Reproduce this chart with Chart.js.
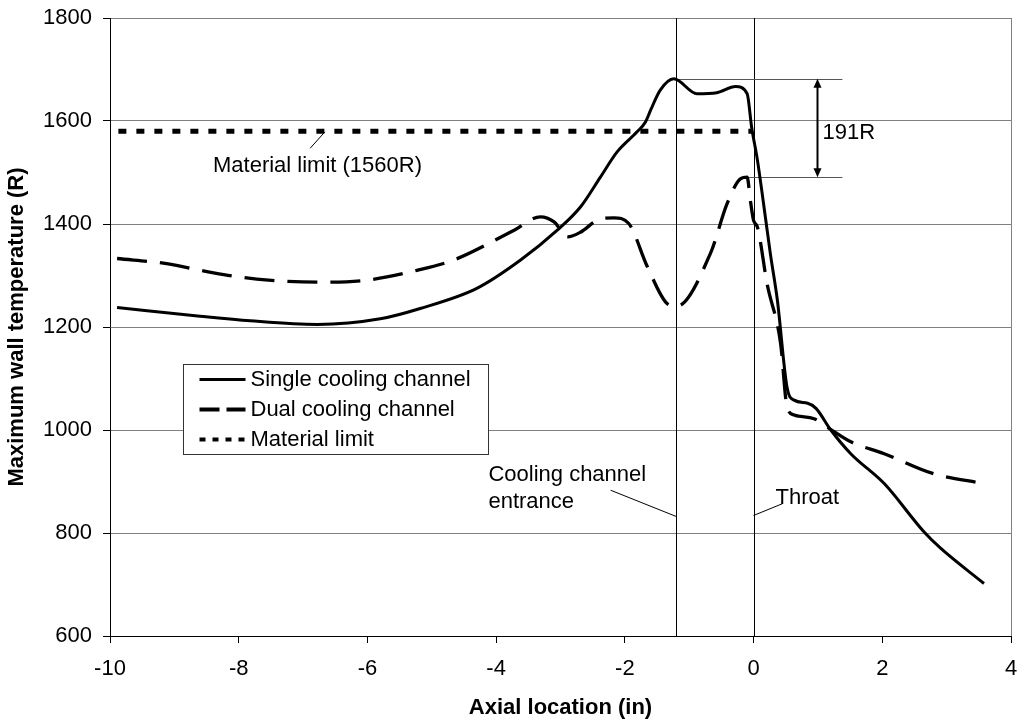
<!DOCTYPE html>
<html>
<head>
<meta charset="utf-8">
<title>Maximum wall temperature</title>
<script src="https://cdn.jsdelivr.net/npm/chart.js@4.4.1/dist/chart.umd.min.js"></script>
<style>
  body { margin: 0; background: #fff; }
  #wrap { width: 1018px; height: 721px; position: relative; }
</style>
</head>
<body>
<div id="wrap"><canvas id="wallChart"></canvas></div>
<script>
// values
const singleX = [-9.89, -8.6, -7.82, -6.78, -5.8, -5.18, -4.3, -3.62, -3.05, -2.69, -2.38, -2.12, -1.81, -1.68, -1.6, -1.45, -1.24,
  -0.88, -0.57, -0.28, -0.1, -0.03, 0.06, 0.16, 0.26, 0.37, 0.52, 0.63, 0.84, 0.97, 1.2, 1.51, 2.03, 2.65, 2.91, 3.58];
const singleTemp = [1238, 1221, 1212, 1205, 1216, 1236, 1275, 1330, 1388, 1433, 1491, 1540, 1579, 1598, 1621, 1660, 1682,
  1653, 1655, 1667, 1653, 1588, 1524, 1435, 1343, 1252, 1083, 1058, 1052, 1042, 1000, 954, 896, 802, 770, 702];

const dualX = [-9.89, -9.12, -8.39, -7.72, -6.69, -6.01, -5.23, -4.66, -3.72, -3.31, -3.1, -2.89, -2.69, -2.43, -2.17, -1.94, -1.65,
  -1.34, -1.2, -0.67, -0.41, -0.2, -0.1, -0.05, 0.0, 0.06, 0.21, 0.42, 0.52, 0.63, 0.94, 1.15, 1.51, 2.03, 2.8, 3.58];
const dualTemp = [1333, 1323, 1305, 1293, 1287, 1291, 1310, 1330, 1388, 1414, 1404, 1375, 1384, 1407, 1412, 1401, 1317,
  1245, 1240, 1343, 1440, 1488, 1491, 1446, 1407, 1394, 1284, 1168, 1045, 1029, 1022, 1005, 977, 954, 915, 896];

const limitX = [-9.87, -0.02];
const limitTemp = [1580, 1580];

const seriesLabels = ['Single cooling channel', 'Dual cooling channel', 'Material limit'];
const stationX = [-1.2, 0];          // cooling channel entrance, throat
const deltaTemps = [1682, 1491];     // peak single vs peak dual -> 191R

const FONT = '"Liberation Sans", Arial, Helvetica, sans-serif';
const FS = 22;

function pts(xs, ys) {
  return xs.map((x, i) => ({ x, y: ys[i] }));
}

function line(ctx, x1, y1, x2, y2) {
  ctx.beginPath();
  ctx.moveTo(x1, y1);
  ctx.lineTo(x2, y2);
  ctx.stroke();
}

function arrowHead(ctx, x, y, dir) {
  ctx.beginPath();
  ctx.moveTo(x, y);
  ctx.lineTo(x - 4, y + dir * 9);
  ctx.lineTo(x + 4, y + dir * 9);
  ctx.closePath();
  ctx.fill();
}

// keep tick label padding from eating into the plot area
function fixBox(size) {
  return s => {
    if (s.isHorizontal()) s.height = size; else s.width = size;
    s.paddingTop = s.paddingBottom = s.paddingLeft = s.paddingRight = 0;
  };
}

const annotations = {
  id: 'annotations',
  beforeDatasetsDraw(chart) {
    const { ctx, chartArea: a, scales: { x, y } } = chart;
    ctx.save();
    ctx.lineWidth = 1;
    ctx.strokeStyle = '#808080';
    const r = Math.round(a.right) + 0.5;
    line(ctx, r, a.top, r, a.bottom);

    ctx.strokeStyle = '#000';
    stationX.forEach(v => {
      const px = Math.round(x.getPixelForValue(v)) + 0.5;
      line(ctx, px, a.top, px, a.bottom);
    });

    // bracket lines for the 191R difference
    ctx.strokeStyle = '#555';
    const xEnd = x.getPixelForValue(1.38);
    const y1 = Math.round(y.getPixelForValue(deltaTemps[0])) + 0.5;
    const y2 = Math.round(y.getPixelForValue(deltaTemps[1])) + 0.5;
    line(ctx, x.getPixelForValue(-1.24), y1, xEnd, y1);
    line(ctx, x.getPixelForValue(-0.12), y2, xEnd, y2);
    ctx.restore();
  },
  afterDatasetsDraw(chart) {
    const { ctx, scales: { x, y } } = chart;
    ctx.save();
    ctx.fillStyle = '#000';
    ctx.strokeStyle = '#000';

    // double arrow
    const ax = Math.round(x.getPixelForValue(0.99)) + 0.5;
    const top = y.getPixelForValue(deltaTemps[0]);
    const bot = y.getPixelForValue(deltaTemps[1]);
    ctx.lineWidth = 2;
    line(ctx, ax, top + 4, ax, bot - 4);
    arrowHead(ctx, ax, top, 1);
    arrowHead(ctx, ax, bot, -1);

    ctx.font = FS + 'px ' + FONT;
    ctx.textBaseline = 'middle';
    ctx.textAlign = 'left';
    ctx.fillText((deltaTemps[0] - deltaTemps[1]) + 'R', x.getPixelForValue(1.07), y.getPixelForValue(1576));
    ctx.fillText('Material limit (1560R)', x.getPixelForValue(-8.4), y.getPixelForValue(1512));
    ctx.fillText('Cooling channel', x.getPixelForValue(-4.12), y.getPixelForValue(912));
    ctx.fillText('entrance', x.getPixelForValue(-4.12), y.getPixelForValue(860));
    ctx.fillText('Throat', x.getPixelForValue(0.34), y.getPixelForValue(869));

    // leader lines
    ctx.lineWidth = 1;
    line(ctx, x.getPixelForValue(-6.66), y.getPixelForValue(1579), x.getPixelForValue(-6.89), y.getPixelForValue(1547));
    line(ctx, x.getPixelForValue(-2.22), y.getPixelForValue(883), x.getPixelForValue(-1.2), y.getPixelForValue(832));
    line(ctx, x.getPixelForValue(0), y.getPixelForValue(834), x.getPixelForValue(0.45), y.getPixelForValue(857));

    // legend box
    const L = 183.5, T = 364.5, W = 305, H = 90;
    ctx.fillStyle = '#fff';
    ctx.fillRect(L, T, W, H);
    ctx.strokeStyle = '#333';
    ctx.strokeRect(L, T, W, H);
    const dashes = [[], [20, 7], [6, 7]];
    const widths = [3, 4, 4];
    chart.data.datasets.forEach((ds, i) => {
      const cy = T + 15 + i * 30;
      ctx.strokeStyle = '#000';
      ctx.lineWidth = widths[i];
      ctx.setLineDash(dashes[i]);
      line(ctx, L + 16, cy, L + 62, cy);
      ctx.setLineDash([]);
      ctx.fillStyle = '#000';
      ctx.fillText(ds.label, L + 67, cy);
    });
    ctx.restore();
  }
};

new Chart(document.getElementById('wallChart'), {
  type: 'scatter',
  data: {
    datasets: [
      { label: seriesLabels[0], data: pts(singleX, singleTemp), showLine: true, borderColor: '#000', borderWidth: 3,
        pointRadius: 0, cubicInterpolationMode: 'monotone' },
      { label: seriesLabels[1], data: pts(dualX, dualTemp), showLine: true, borderColor: '#000', borderWidth: 3.3,
        borderDash: [30, 13], pointRadius: 0, cubicInterpolationMode: 'monotone' },
      { label: seriesLabels[2], data: pts(limitX, limitTemp), showLine: true, borderColor: '#000', borderWidth: 5,
        borderDash: [8, 10], pointRadius: 0 }
    ]
  },
  options: {
    responsive: true,
    maintainAspectRatio: false,
    animation: false,
    layout: { autoPadding: false, padding: { top: 18, right: 7, left: 0, bottom: 0 } },
    plugins: { legend: { display: false }, tooltip: { enabled: false } },
    scales: {
      x: {
        type: 'linear', min: -10, max: 4,
        afterFit: fixBox(85),
        ticks: { stepSize: 2, padding: 13, color: '#000', font: { family: FONT, size: FS } },
        grid: { drawOnChartArea: false, tickLength: 7, color: '#000' },
        border: { color: '#000', width: 1 },
        title: { display: true, text: 'Axial location (in)', color: '#000', padding: { top: 0, bottom: 0 },
          font: { family: FONT, size: FS, weight: 'bold' } }
      },
      y: {
        min: 600, max: 1800,
        afterFit: fixBox(110),
        ticks: { stepSize: 200, padding: 11, color: '#000', font: { family: FONT, size: FS },
          callback: v => String(v) },
        grid: { color: '#808080', tickColor: '#000', tickLength: 7 },
        border: { color: '#000', width: 1 },
        title: { display: true, text: 'Maximum wall temperature (R)', color: '#000', padding: { top: 4, bottom: 0 },
          font: { family: FONT, size: FS, weight: 'bold' } }
      }
    }
  },
  plugins: [annotations]
});
</script>
</body>
</html>
